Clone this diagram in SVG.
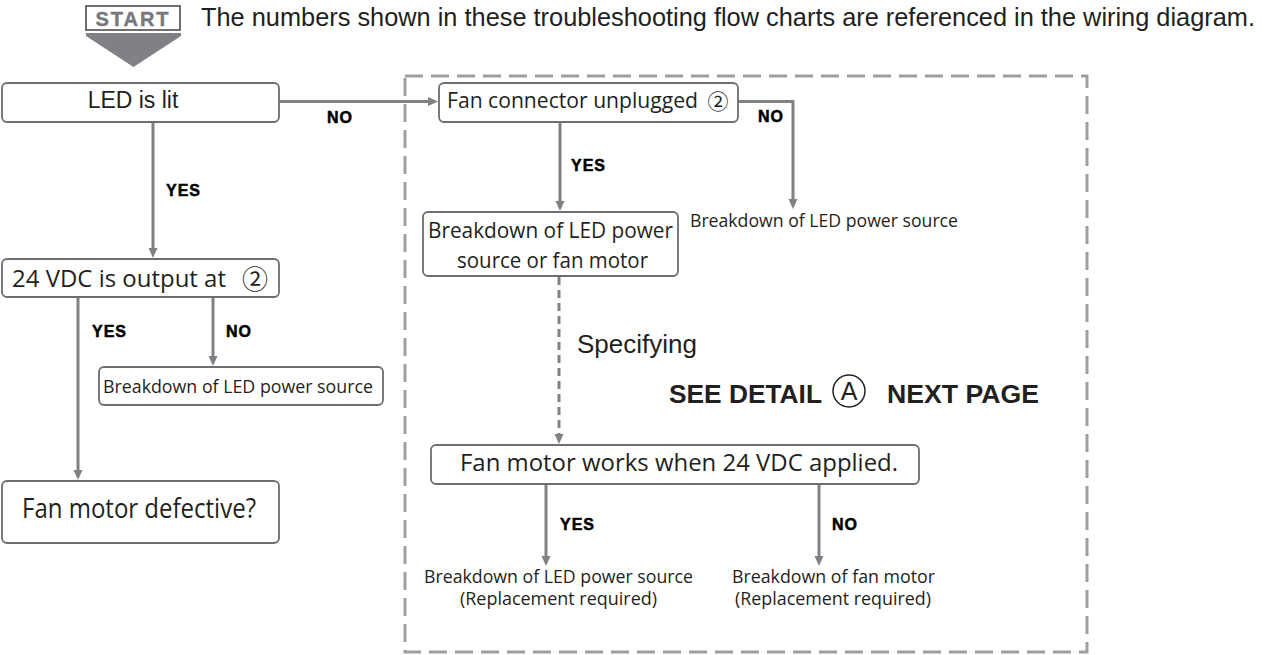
<svg xmlns="http://www.w3.org/2000/svg" width="1267" height="655" viewBox="0 0 1267 655">
<defs>
<marker id="ah" markerUnits="userSpaceOnUse" markerWidth="11" markerHeight="10" refX="2" refY="5" orient="auto">
<path d="M0,0.5 L10,5 L0,9.5 z" fill="#808184"/>
</marker>
<style>
.box{fill:#fff;stroke:#6d6e71;stroke-width:1.8}
.t{font-family:"Open Sans","Noto Sans",sans-serif;fill:#231f20}
.h{font-family:"Liberation Sans",Arial,sans-serif;fill:#231f20}
.lbl{font-family:"Liberation Sans",Arial,sans-serif;font-weight:bold;font-size:16px;letter-spacing:1px;fill:#000;stroke:#000;stroke-width:0.5}
.c{font-family:"Noto Sans CJK JP","DejaVu Sans",sans-serif;fill:#231f20}
.ln{fill:none;stroke:#808184;stroke-width:3}
.arr{marker-end:url(#ah)}
</style>
</defs>
<rect width="1267" height="655" fill="#fff"/>

<g id="start">
<rect x="86" y="6" width="94" height="24" fill="#fff" stroke="#414042" stroke-width="1.5"/>
<text x="133" y="26" text-anchor="middle" font-family="Liberation Sans, Arial, sans-serif" font-weight="bold" font-size="20" letter-spacing="2" fill="#77787b" stroke="#77787b" stroke-width="0.4">START</text>
<polygon points="86,33 181,33 181,36 133.5,67 86,36" fill="#808184"/>
</g>
<g id="header">
<text class="h" x="201" y="26" font-size="25" textLength="1054" lengthAdjust="spacingAndGlyphs">The numbers shown in these troubleshooting flow charts are referenced in the wiring diagram.</text>
</g>

<g id="frame">
<rect x="405" y="76" width="682" height="576" fill="none" stroke="#9d9fa2" stroke-width="3" stroke-dasharray="18 8"/>
</g>

<g id="connectors">
<path class="ln arr" d="M279,101.5 H430"/>
<path class="ln arr" d="M153,122 V250"/>
<path class="ln arr" d="M78,297 V472"/>
<path class="ln arr" d="M213,297 V358"/>
<path class="ln arr" d="M560,122 V203"/>
<path class="ln arr" d="M738,101.5 H793 V201"/>
<path class="ln arr" d="M559,277 V436" stroke-dasharray="8 5" stroke-width="2.5"/>
<path class="ln arr" d="M546,484 V558"/>
<path class="ln arr" d="M819,484 V558"/>
<text class="lbl" x="327" y="123">NO</text>
<text class="lbl" x="166" y="196">YES</text>
<text class="lbl" x="92" y="337">YES</text>
<text class="lbl" x="226" y="337">NO</text>
<text class="lbl" x="571" y="171">YES</text>
<text class="lbl" x="758" y="122">NO</text>
<text class="lbl" x="560" y="530">YES</text>
<text class="lbl" x="832" y="530">NO</text>
</g>

<g id="led-lit">
<rect class="box" x="2" y="83" width="277" height="39" rx="5"/>
<text class="h" x="133" y="108" font-size="23" text-anchor="middle">LED is lit</text>
</g>

<g id="vdc-output">
<rect class="box" x="2" y="259" width="277" height="38" rx="5"/>
<text class="t" x="12" y="287" font-size="23.5" textLength="214" lengthAdjust="spacingAndGlyphs">24 VDC is output at</text>
<text class="c" x="255" y="289" font-size="26" text-anchor="middle">②</text>
</g>

<g id="breakdown-led-1">
<rect class="box" x="99" y="367" width="284" height="38" rx="5"/>
<text class="t" x="238" y="393" font-size="18" text-anchor="middle" textLength="270" lengthAdjust="spacingAndGlyphs">Breakdown of LED power source</text>
</g>

<g id="fan-defective">
<rect class="box" x="2" y="481" width="277" height="62" rx="5"/>
<text class="t" x="139" y="518" font-size="27.5" text-anchor="middle" textLength="234" lengthAdjust="spacingAndGlyphs">Fan motor defective?</text>
</g>

<g id="fan-connector">
<rect class="box" x="439" y="83" width="299" height="39" rx="5"/>
<text class="t" x="447" y="108" font-size="21" textLength="251" lengthAdjust="spacingAndGlyphs">Fan connector unplugged</text>
<text class="c" x="718" y="109" font-size="21" text-anchor="middle">②</text>
</g>

<g id="breakdown-led-or-fan">
<rect class="box" x="423" y="212" width="255" height="64" rx="5"/>
<text class="t" x="550.5" y="238" font-size="21" text-anchor="middle" textLength="245" lengthAdjust="spacingAndGlyphs">Breakdown of LED power</text>
<text class="t" x="552.5" y="268" font-size="21" text-anchor="middle" textLength="191" lengthAdjust="spacingAndGlyphs">source or fan motor</text>
</g>

<g id="breakdown-led-2">
<text class="t" x="824" y="227" font-size="18" text-anchor="middle" textLength="268" lengthAdjust="spacingAndGlyphs">Breakdown of LED power source</text>
</g>

<g id="specifying">
<text class="h" x="577" y="353" font-size="26">Specifying</text>
</g>

<g id="see-detail">
<text class="h" x="669" y="403" font-size="26" font-weight="bold" textLength="153" lengthAdjust="spacingAndGlyphs">SEE DETAIL</text>
<circle cx="849" cy="391" r="16" fill="none" stroke="#231f20" stroke-width="1.5"/>
<text class="h" x="849" y="400" font-size="25" text-anchor="middle">A</text>
<text class="h" x="887" y="403" font-size="26" font-weight="bold" textLength="152" lengthAdjust="spacingAndGlyphs">NEXT PAGE</text>
</g>

<g id="fan-works">
<rect class="box" x="431" y="445" width="488" height="39" rx="5"/>
<text class="t" x="679" y="471" font-size="23" text-anchor="middle" textLength="438" lengthAdjust="spacingAndGlyphs">Fan motor works when 24 VDC applied.</text>
</g>

<g id="breakdown-led-3">
<text class="t" x="558.5" y="583" font-size="18" text-anchor="middle" textLength="269" lengthAdjust="spacingAndGlyphs">Breakdown of LED power source</text>
<text class="t" x="558.5" y="605" font-size="18" text-anchor="middle" textLength="197" lengthAdjust="spacingAndGlyphs">(Replacement required)</text>
</g>

<g id="breakdown-fan">
<text class="t" x="833.5" y="583" font-size="18" text-anchor="middle" textLength="203" lengthAdjust="spacingAndGlyphs">Breakdown of fan motor</text>
<text class="t" x="833" y="605" font-size="18" text-anchor="middle" textLength="196" lengthAdjust="spacingAndGlyphs">(Replacement required)</text>
</g>
</svg>
